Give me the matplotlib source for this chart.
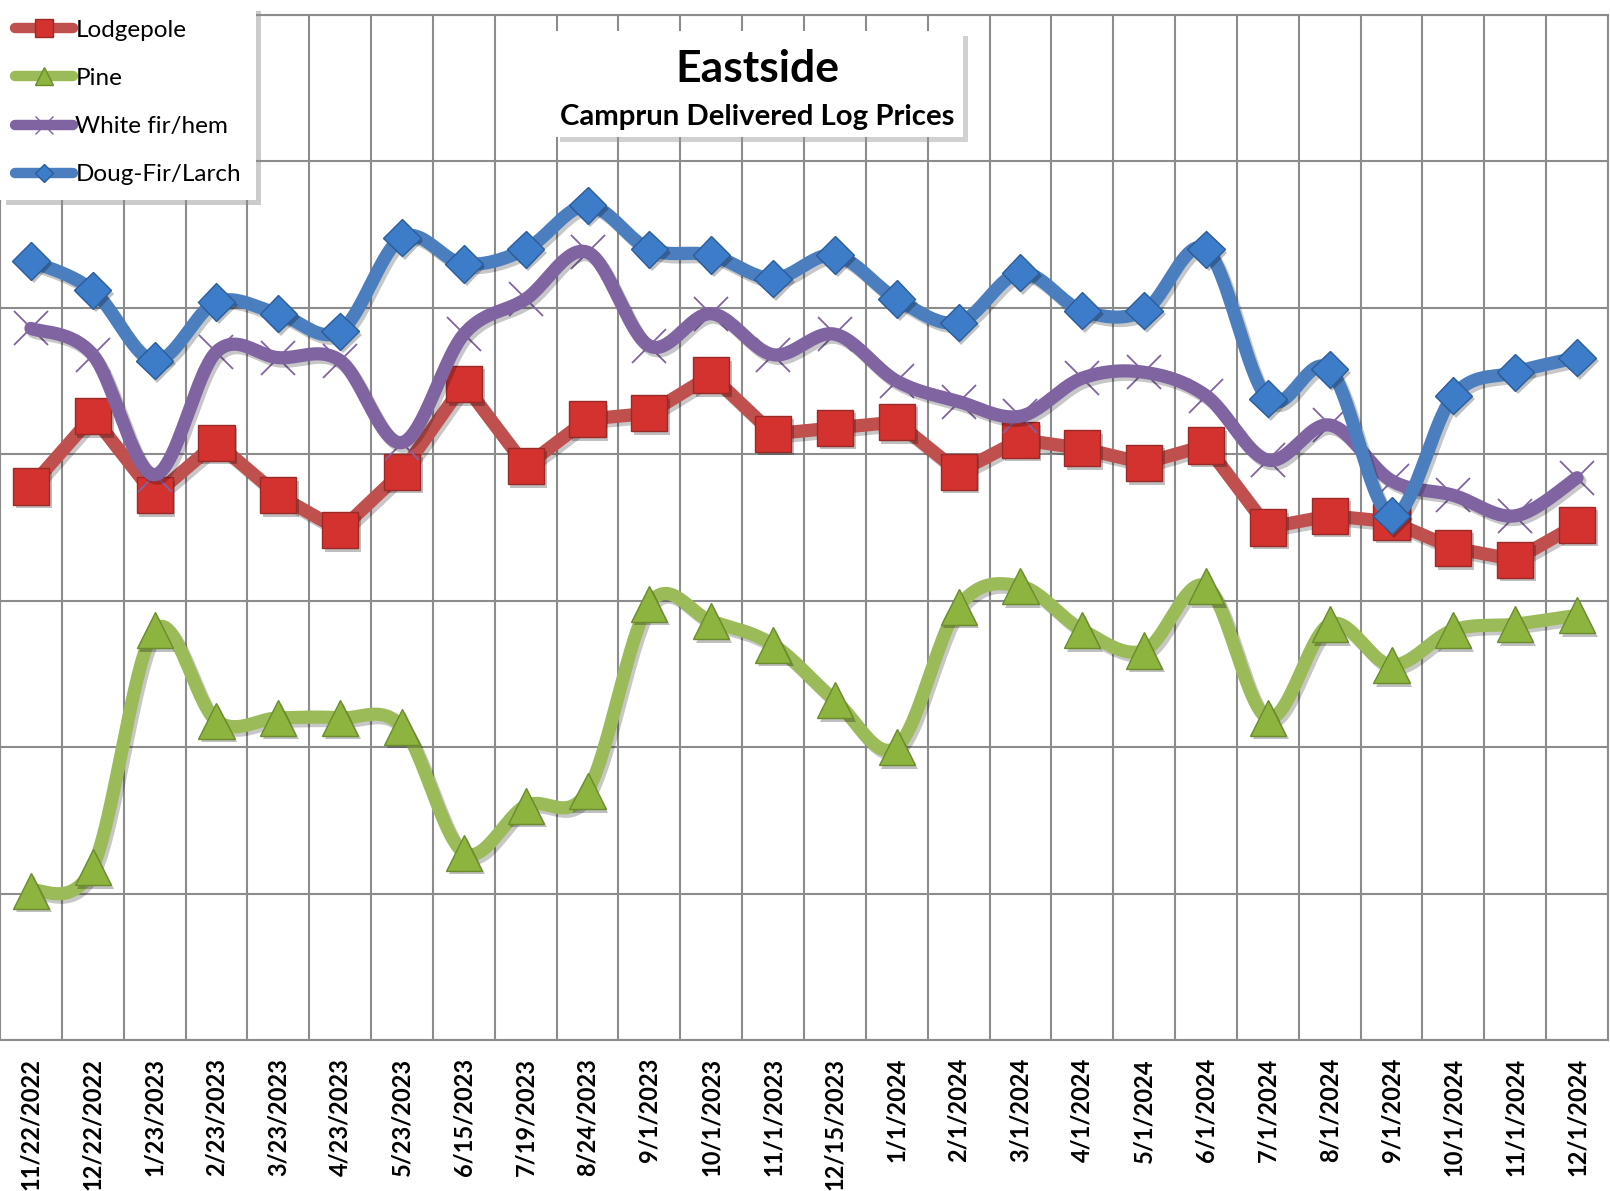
import numpy as np
import matplotlib
matplotlib.use("Agg")
import matplotlib.pyplot as plt
from matplotlib.lines import Line2D
from matplotlib.patches import Rectangle
import matplotlib.patheffects as pe

# ---------------- data ----------------
dates = ["11/22/2022", "12/22/2022", "1/23/2023", "2/23/2023", "3/23/2023",
         "4/23/2023", "5/23/2023", "6/15/2023", "7/19/2023", "8/24/2023",
         "9/1/2023", "10/1/2023", "11/1/2023", "12/15/2023", "1/1/2024",
         "2/1/2024", "3/1/2024", "4/1/2024", "5/1/2024", "6/1/2024",
         "7/1/2024", "8/1/2024", "9/1/2024", "10/1/2024", "11/1/2024",
         "12/1/2024"]

lodgepole = [439, 463, 436, 454, 436, 424, 444, 474, 446, 462, 464, 477, 457,
             459, 461, 444, 455, 452, 447, 453, 425, 429, 427, 418, 414, 426]
pine = [301, 309, 390, 359, 360, 360, 357, 314, 330, 335, 399, 393, 385,
        366, 350, 398, 405, 390, 383, 405, 360, 392, 378, 390, 392, 395]
white_fir = [493, 484, 443, 485, 483, 482, 454, 491, 503, 519, 487, 498, 484,
             491, 475, 468, 463, 476, 478, 470, 448, 460, 441, 436, 429, 442]
doug_fir = [516, 506, 482, 502, 498, 492, 524, 515, 520, 535, 520, 518, 510,
            518, 503, 495, 512, 499, 499, 520, 469, 479, 429, 470, 478, 483]

y_grid = [250, 300, 350, 400, 450, 500, 550, 600]

title = "Eastside"
subtitle = "Camprun Delivered Log Prices"

# ---------------- helpers ----------------
def smooth(xs, ys, n=24):
    """Excel-style smoothed line (Catmull-Rom as cubic Bezier)."""
    P = np.column_stack([xs, ys]).astype(float)
    m = len(P)
    out = []
    for i in range(m - 1):
        p0 = P[i - 1] if i > 0 else P[i]
        p1 = P[i]
        p2 = P[i + 1]
        p3 = P[i + 2] if i + 2 < m else P[i + 1]
        c1 = p1 + (p2 - p0) / 6.0
        c2 = p2 - (p3 - p1) / 6.0
        t = np.linspace(0, 1, n, endpoint=(i == m - 2))[:, None]
        seg = ((1 - t) ** 3) * p1 + 3 * ((1 - t) ** 2) * t * c1 + \
              3 * (1 - t) * t ** 2 * c2 + t ** 3 * p2
        out.append(seg)
    out = np.vstack(out)
    return out[:, 0], out[:, 1]

FONT = "Lato"
W, H = 1610, 1191
fig = plt.figure(figsize=(W / 100, H / 100), dpi=100)
fig.patch.set_facecolor("white")

ax = fig.add_axes([0, 1 - 1040 / H, 1608 / W, (1040 - 15) / H])
ax.set_facecolor("white")

x = np.arange(len(dates))
ax.set_xlim(-0.5, len(dates) - 0.5)
ax.set_ylim(y_grid[0], y_grid[-1])

grid_c = "#8c8c8c"
ax.set_yticks(y_grid)
ax.set_xticks(x)
ax.grid(False)
for yv in y_grid:
    ax.axhline(yv, color=grid_c, lw=1.5, zorder=0.5)
for xv in np.arange(-0.5, len(dates) + 0.5, 1):
    ax.axvline(xv, color=grid_c, lw=1.5, zorder=0.5)
for s in ax.spines.values():
    s.set_color(grid_c)
    s.set_linewidth(1.5)

ax.tick_params(axis="y", which="both", length=0, labelleft=False)
ax.tick_params(axis="x", which="both", length=0, pad=13)
ax.set_xticklabels(dates, rotation=90, fontsize=17, fontweight="bold",
                   family=FONT, color="black")

line_shadow = [pe.SimpleLineShadow(offset=(2, -2.5), shadow_color="k", alpha=0.22),
               pe.Normal()]
mark_shadow = [pe.SimplePatchShadow(offset=(2, -2.5), shadow_rgbFace="k", alpha=0.25),
               pe.Normal()]

series = [
    dict(name="Lodgepole", y=lodgepole, lc="#c0504d", smooth=False,
         marker="s", ms=26, mfc="#d4322f", mec="#9a2a27", mew=1.0),
    dict(name="Pine", y=pine, lc="#9bbb59", smooth=True,
         marker="^", ms=26, mfc="#8cb43f", mec="#6b8c2c", mew=1.0),
    dict(name="White fir/hem", y=white_fir, lc="#8064a2", smooth=True,
         marker="x", ms=25, mfc="none", mec="#8064a2", mew=1.3),
    dict(name="Doug-Fir/Larch", y=doug_fir, lc="#4a7ebf", smooth=True,
         marker="D", ms=19, mfc="#3d7cc9", mec="#2b5d99", mew=1.0),
]

handles = []
for i, s in enumerate(series):
    z = 3 + i * 2
    if s["smooth"]:
        sx, sy = smooth(x, s["y"])
    else:
        sx, sy = x, np.asarray(s["y"], float)
    ax.plot(sx, sy, color=s["lc"], lw=9.5, solid_capstyle="round",
            solid_joinstyle="round", zorder=z, path_effects=line_shadow)
    if s["marker"] == "x":
        ax.plot(x, s["y"], ls="none", marker="x", ms=s["ms"],
                mec=s["mec"], mew=s["mew"], zorder=z - 0.5)
    else:
        ax.plot(x, s["y"], ls="none", marker=s["marker"], ms=s["ms"],
                mfc=s["mfc"], mec=s["mec"], mew=s["mew"], zorder=z + 0.5,
                path_effects=mark_shadow)
    handles.append(Line2D([], [], color=s["lc"], lw=7.5, solid_capstyle="round",
                          marker=s["marker"], ms=12.5 if s["marker"] != "D" else 9,
                          mfc=s["mfc"], mec=s["mec"], mew=1.0))

leg = fig.legend(handles, [s["name"] for s in series], loc="upper left",
                 bbox_to_anchor=(0, 1 - 5 / H), bbox_transform=fig.transFigure,
                 prop={"family": FONT, "size": 17.5}, frameon=True, fancybox=False,
                 shadow={"color": "0.55", "alpha": 0.45, "ox": 4, "oy": -4},
                 borderaxespad=0, borderpad=0.6, labelspacing=1.12,
                 handlelength=2.4, handletextpad=0.1)
leg.get_frame().set_edgecolor("white")
leg.get_frame().set_linewidth(0)
leg.set_zorder(20)
leg._legend_box.align = "left"

# title box
bx0, bx1, by0, by1 = 555, 963, 31, 137
fig.patches.append(Rectangle(((bx0 + 5) / W, 1 - (by1 + 5) / H), (bx1 - bx0) / W,
                             (by1 - by0) / H, transform=fig.transFigure,
                             facecolor="0.6", alpha=0.45, edgecolor="none", zorder=18))
fig.patches.append(Rectangle((bx0 / W, 1 - by1 / H), (bx1 - bx0) / W,
                             (by1 - by0) / H, transform=fig.transFigure,
                             facecolor="white", edgecolor="none", zorder=19))
fig.text(757 / W, 1 - 69 / H, title, ha="center", va="center", fontsize=32,
         fontweight="bold", family=FONT, zorder=21)
fig.text(757 / W, 1 - 117 / H, subtitle, ha="center", va="center", fontsize=21.2,
         fontweight="bold", family=FONT, zorder=21)

fig.savefig("out.png", dpi=100, facecolor="white")
